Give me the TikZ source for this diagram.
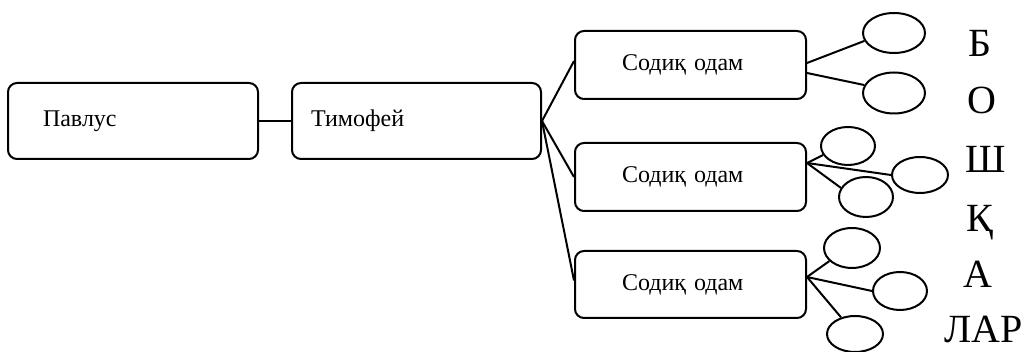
\documentclass[tikz,border=0pt]{standalone}
\usepackage{fontspec}
\setmainfont{Liberation Serif}
\usetikzlibrary{shapes.geometric}
\begin{document}
\begin{tikzpicture}[x=1pt,y=-1pt,
  box/.style={draw,line width=2pt,rounded corners=9pt,font=\fontsize{24}{28}\selectfont,inner sep=0pt,align=left},
  oval/.style={draw,ellipse,line width=2pt,inner sep=0pt},
  link/.style={line width=2pt},
  big/.style={font=\fontsize{40}{44}\selectfont,anchor=base,inner sep=0pt}]
\useasboundingbox (0,0) rectangle (1029,352);
\node[box,minimum width=250pt,minimum height=76pt,text width=180pt] (p) at (133,121) {Павлус};
\node[box,minimum width=249pt,minimum height=76pt,text width=211pt] (t) at (416.5,121) {Тимофей};
\node[box,minimum width=231pt,minimum height=68pt,text width=137pt] (b1) at (690.5,65) {Содиқ одам};
\node[box,minimum width=231pt,minimum height=68pt,text width=137pt] (b2) at (690.5,177) {Содиқ одам};
\node[box,minimum width=231pt,minimum height=67pt,text width=137pt] (b3) at (690.5,284.5) {Содиқ одам};
\node[oval,minimum width=62pt,minimum height=40pt] (e1) at (894,33) {};
\node[oval,minimum width=62pt,minimum height=41pt] (e2) at (894,93) {};
\node[oval,minimum width=54pt,minimum height=38pt] (e3) at (848,146) {};
\node[oval,minimum width=56pt,minimum height=36pt] (e4) at (920,175) {};
\node[oval,minimum width=54pt,minimum height=40pt] (e5) at (866,197) {};
\node[oval,minimum width=56pt,minimum height=40pt] (e6) at (852,248) {};
\node[oval,minimum width=54pt,minimum height=38pt] (e7) at (900,291) {};
\node[oval,minimum width=56pt,minimum height=36pt] (e8) at (855,334) {};
\draw[link] (p.east) -- (t.west);
\draw[link] (t.east) -- ([yshift=4pt]b1.west);
\draw[link] (t.east) -- (b2.west);
\draw[link] (t.east) -- ([yshift=4pt]b3.west);
\draw[link] ([yshift=2pt]b1.east) -- (e1.195);
\draw[link] ([yshift=-8pt]b1.east) -- (e2.165);
\draw[link] ([yshift=14pt]b2.east) -- (e3.200);
\draw[link] ([yshift=14pt]b2.east) -- (e4.180);
\draw[link] ([yshift=14pt]b2.east) -- (e5.160);
\draw[link] ([yshift=7.5pt]b3.east) -- (e6.210);
\draw[link] ([yshift=7.5pt]b3.east) -- (e7.180);
\draw[link] ([yshift=7.5pt]b3.east) -- (e8.130);
\node[big] (l1) at (979.5,57) {Б};
\node[big] (l2) at (982,114) {О};
\node[big] (l3) at (986,173) {Ш};
\node[big] (l4) at (980,232) {Қ};
\node[big] (l5) at (977.5,288) {А};
\node[big] (l6) at (984,343) {ЛАР};
\end{tikzpicture}
\end{document}
